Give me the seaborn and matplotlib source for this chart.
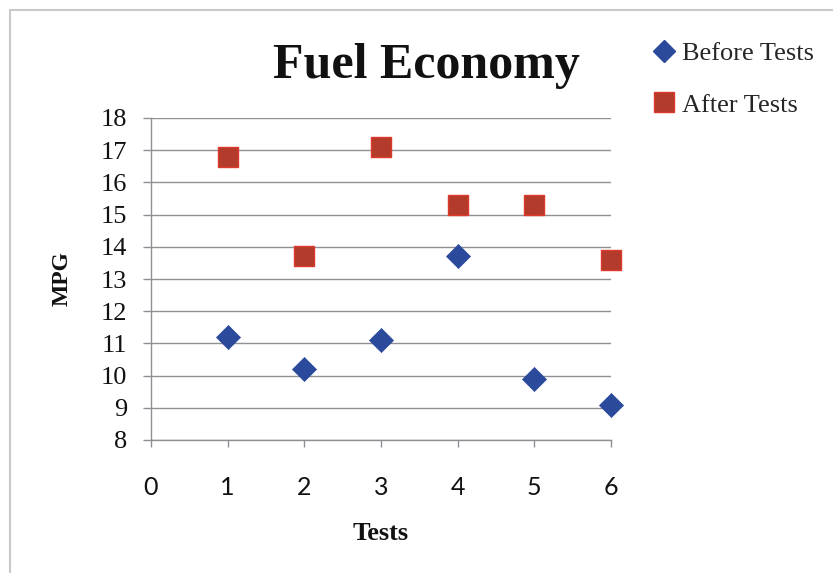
import matplotlib
matplotlib.use("Agg")
import matplotlib.pyplot as plt
from matplotlib.lines import Line2D
import pandas as pd
import seaborn as sns

# Fuel economy measurements per test run
tests = [1, 2, 3, 4, 5, 6]
before_tests = [11.2, 10.2, 11.1, 13.7, 9.9, 9.1]
after_tests = [16.8, 13.7, 17.1, 15.3, 15.3, 13.6]
x_ticks = [0, 1, 2, 3, 4, 5, 6]
y_ticks = [8, 9, 10, 11, 12, 13, 14, 15, 16, 17, 18]

df_before = pd.DataFrame({"Tests": tests, "MPG": before_tests})
df_after = pd.DataFrame({"Tests": tests, "MPG": after_tests})

sns.set_theme(style="white")
plt.rcParams["font.family"] = ["Liberation Serif", "DejaVu Serif"]

W, H = 833, 573
fig = plt.figure(figsize=(W / 100, H / 100), dpi=100)
ax = fig.add_axes([151 / W, 1 - 440 / H, 460 / W, 322 / H])

blue = "#2B4A9C"
red_fill = "#B23B2C"
red_edge = "#DE3A2B"

sns.scatterplot(data=df_before, x="Tests", y="MPG", marker="D", s=150,
                color=blue, edgecolor=blue, linewidth=0.5, ax=ax,
                label="Before Tests", zorder=3, clip_on=False)
sns.scatterplot(data=df_after, x="Tests", y="MPG", marker="s", s=200,
                color=red_fill, edgecolor=red_edge, linewidth=1.0, ax=ax,
                label="After Tests", zorder=3, clip_on=False)

ax.set_xlim(0, 6)
ax.set_ylim(8, 18)
ax.set_xticks(x_ticks)
ax.set_yticks(y_ticks)

grid_color = "#8f8f96"
ax.grid(axis="y", color=grid_color, linewidth=1.0)
ax.grid(axis="x", visible=False)
ax.set_axisbelow(True)
for side in ["top", "right"]:
    ax.spines[side].set_visible(False)
for side in ["left", "bottom"]:
    ax.spines[side].set_color(grid_color)
    ax.spines[side].set_linewidth(1.0)

ax.tick_params(axis="x", direction="out", length=5, width=1, color=grid_color,
               pad=21, labelsize=18, bottom=True)
ax.tick_params(axis="y", direction="out", length=6, width=1, color=grid_color,
               pad=11, labelsize=19, left=True)
for lab in ax.get_xticklabels():
    lab.set_family(["Lato", "DejaVu Sans"])
    lab.set_color("#111111")
for lab in ax.get_yticklabels():
    lab.set_color("#111111")

ax.set_xlabel("Tests", fontsize=19, fontweight="bold", color="#111111")
ax.set_ylabel("MPG", fontsize=17, fontweight="bold", color="#111111")
ax.xaxis.set_label_coords(0.5, (440 - 533) / 322)
ax.xaxis.label.set_verticalalignment("center")
ax.yaxis.set_label_coords((62 - 151) / 460, 0.5)
ax.yaxis.label.set_verticalalignment("center")

fig.text(426 / W, 1 - 66 / H, "Fuel Economy", ha="center", va="center",
         fontsize=36, fontweight="bold", color="#111111")

handles = [
    Line2D([], [], marker="D", linestyle="none", markersize=11,
           markerfacecolor=blue, markeredgecolor=blue),
    Line2D([], [], marker="s", linestyle="none", markersize=14,
           markerfacecolor=red_fill, markeredgecolor=red_edge),
]
ax.legend(handles, ["Before Tests", "After Tests"], loc="upper left",
          bbox_to_anchor=(652 / W, 1 - 42 / H), bbox_transform=fig.transFigure,
          frameon=False, fontsize=19, handlelength=0.9, handletextpad=0.25,
          labelspacing=1.05, borderpad=0, borderaxespad=0)

# outer chart frame
border = "#c9c9c9"
fig.add_artist(Line2D([10 / W, 1], [1 - 9.5 / H, 1 - 9.5 / H],
                      transform=fig.transFigure, color=border, linewidth=1.5))
fig.add_artist(Line2D([10 / W, 10 / W], [0, 1 - 9.5 / H],
                      transform=fig.transFigure, color=border, linewidth=1.5))

fig.savefig("out.png", dpi=100, facecolor="white")
